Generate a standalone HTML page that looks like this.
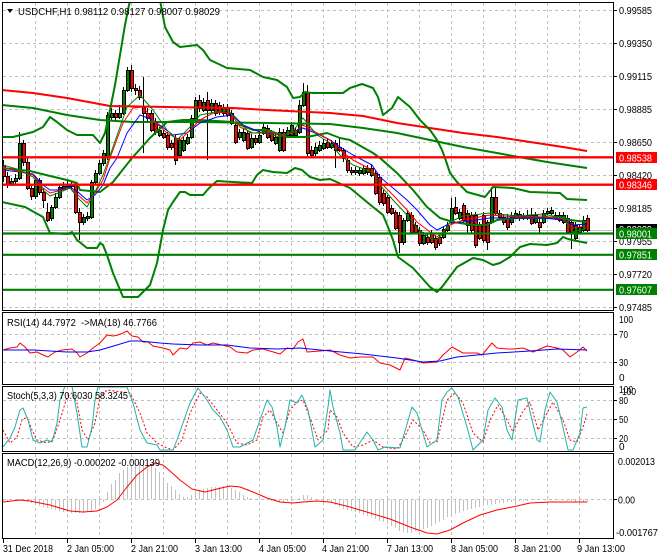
<!DOCTYPE html>
<html><head><meta charset="utf-8">
<style>
html,body{margin:0;padding:0;background:#fff;}
svg{display:block;}
text{font-family:"Liberation Sans",Arial,sans-serif;font-size:10px;fill:#000;white-space:pre;}
.w{fill:#fff;}
.g{fill:none;stroke:#c0c0c0;stroke-width:1;stroke-dasharray:3,3;shape-rendering:crispEdges;}
.b{fill:none;stroke:#000;stroke-width:1;shape-rendering:crispEdges;}
.t2{fill:none;stroke-width:2;stroke-linejoin:round;}
.t1{fill:none;stroke-width:1;stroke-linejoin:round;}
</style></head><body>
<svg width="660" height="560" viewBox="0 0 660 560" xmlns="http://www.w3.org/2000/svg" xml:space="preserve">
<rect width="660" height="560" fill="#fff"/>
<defs>
<clipPath id="cm"><rect x="3" y="3" width="610" height="307"/></clipPath>
<clipPath id="cr"><rect x="3" y="313" width="610" height="71"/></clipPath>
<clipPath id="cs"><rect x="3" y="387" width="610" height="64"/></clipPath>
<clipPath id="cd"><rect x="3" y="454" width="610" height="84"/></clipPath>
</defs>

<!-- grids -->
<path class="g" d="M3 10.5H613M3 43.5H613M3 76.5H613M3 109.5H613M3 142.5H613M3 175.5H613M3 208.5H613M3 241.5H613M3 274.5H613M3 307.5H613"/>
<path class="g" d="M35.5 3V310M67.5 3V310M99.5 3V310M131.5 3V310M163.5 3V310M195.5 3V310M227.5 3V310M259.5 3V310M291.5 3V310M323.5 3V310M355.5 3V310M387.5 3V310M419.5 3V310M451.5 3V310M483.5 3V310M515.5 3V310M547.5 3V310M579.5 3V310"/>
<path class="g" d="M3 334.5H613M3 362.5H613"/>
<path class="g" d="M35.5 313V384M67.5 313V384M99.5 313V384M131.5 313V384M163.5 313V384M195.5 313V384M227.5 313V384M259.5 313V384M291.5 313V384M323.5 313V384M355.5 313V384M387.5 313V384M419.5 313V384M451.5 313V384M483.5 313V384M515.5 313V384M547.5 313V384M579.5 313V384"/>
<path class="g" d="M3 400.5H613M3 419.5H613M3 438.5H613"/>
<path class="g" d="M35.5 387V451M67.5 387V451M99.5 387V451M131.5 387V451M163.5 387V451M195.5 387V451M227.5 387V451M259.5 387V451M291.5 387V451M323.5 387V451M355.5 387V451M387.5 387V451M419.5 387V451M451.5 387V451M483.5 387V451M515.5 387V451M547.5 387V451M579.5 387V451"/>
<path class="g" d="M3 499.5H613"/>
<path class="g" d="M35.5 454V538M67.5 454V538M99.5 454V538M131.5 454V538M163.5 454V538M195.5 454V538M227.5 454V538M259.5 454V538M291.5 454V538M323.5 454V538M355.5 454V538M387.5 454V538M419.5 454V538M451.5 454V538M483.5 454V538M515.5 454V538M547.5 454V538M579.5 454V538"/>

<!-- MAIN CHART -->
<g clip-path="url(#cm)">
<path d="M3 230.5H613" stroke="#c0c0c0" stroke-width="1" shape-rendering="crispEdges"/>
<!-- wicks -->
<path class="b" d="M3.5 160V182M7.5 172V188M11.5 178V186M15.5 174V184M19.5 132V180M23.5 140V166M27.5 158V190M31.5 185V200M35.5 176V199M39.5 178V195M43.5 188V208M47.5 203V222M51.5 205V221M55.5 193V209M59.5 185V199M63.5 182V191M67.5 180V189M71.5 181V190M75.5 182V214M79.5 208V240M83.5 214V225M87.5 212V221M91.5 180V219M95.5 170V184M99.5 160V175M103.5 150V166M107.5 112V160M111.5 108V120M115.5 110V120M119.5 105V119M123.5 87V115M127.5 67V92M131.5 65V92M135.5 84V95M139.5 86V100M143.5 77V153M147.5 108V121M151.5 110V132M155.5 118V135M159.5 127V137M163.5 130V139M167.5 132V150M171.5 140V150M175.5 135V165M179.5 137V158M183.5 137V152M187.5 134V145M191.5 115V139M195.5 97V120M199.5 95V112M203.5 98V112M207.5 92V160M211.5 99V113M215.5 100V116M219.5 102V115M223.5 104V116M227.5 104V117M231.5 110V125M235.5 122V144M239.5 129V140M243.5 128V142M247.5 130V150M251.5 134V149M255.5 135V145M259.5 131V144M263.5 123V135M267.5 125V139M271.5 130V142M275.5 134V145M279.5 128V152M283.5 129V152M287.5 127V137M291.5 122V137M295.5 127V138M299.5 100V134M303.5 83V107M307.5 85V156M311.5 146V158M315.5 143V156M319.5 141V152M323.5 139V150M327.5 139V149M331.5 140V149M335.5 140V168M339.5 137V152M343.5 148V162M347.5 158V173M351.5 167V175M355.5 167V175M359.5 167V176M363.5 166V175M367.5 165V175M371.5 165V177M375.5 170V195M379.5 174V205M383.5 190V206M387.5 195V214M391.5 205V215M395.5 210V230M399.5 212V253M403.5 218V245M407.5 210V222M411.5 212V234M415.5 222V234M419.5 227V246M423.5 232V245M427.5 234V245M431.5 230V244M435.5 235V250M439.5 235V246M443.5 226V239M447.5 222V232M451.5 198V224M455.5 197V215M459.5 209V220M463.5 203V222M467.5 210V233M471.5 212V233M475.5 212V248M479.5 222V240M483.5 212V243M487.5 220V250M491.5 187V224M495.5 187V215M499.5 210V219M503.5 214V225M507.5 214V230M511.5 212V225M515.5 210V219M519.5 211V221M523.5 213V220M527.5 210V220M531.5 208V225M535.5 212V224M539.5 219V233M543.5 210V224M547.5 208V215M551.5 207V215M555.5 212V220M559.5 212V222M563.5 212V224M567.5 215V234M571.5 219V249M575.5 222V240M579.5 224V234M583.5 216V232M587.5 215V232"/>
<!-- bull bodies -->
<path fill="#008000" stroke="#000" stroke-width="1" shape-rendering="crispEdges" d="M10.5 181.5h3v3h-3zM14.5 178.5h3v3h-3zM18.5 143.5h3v35h-3zM34.5 180.5h3v16h-3zM50.5 207.5h3v11h-3zM54.5 197.5h3v10h-3zM58.5 187.5h3v10h-3zM62.5 186.5h3v2h-3zM66.5 184.5h3v2h-3zM82.5 217.5h3v5h-3zM86.5 216.5h3v2h-3zM90.5 182.5h3v35h-3zM94.5 173.5h3v9h-3zM98.5 163.5h3v10h-3zM102.5 153.5h3v10h-3zM106.5 115.5h3v42h-3zM110.5 113.5h3v4h-3zM118.5 113.5h3v4h-3zM122.5 90.5h3v23h-3zM126.5 70.5h3v20h-3zM158.5 130.5h3v5h-3zM178.5 140.5h3v15h-3zM182.5 140.5h3v10h-3zM186.5 137.5h3v6h-3zM190.5 118.5h3v19h-3zM194.5 100.5h3v18h-3zM202.5 102.5h3v8h-3zM210.5 103.5h3v7h-3zM222.5 107.5h3v6h-3zM238.5 132.5h3v5h-3zM242.5 132.5h3v8h-3zM250.5 138.5h3v9h-3zM258.5 135.5h3v7h-3zM262.5 127.5h3v6h-3zM274.5 137.5h3v6h-3zM278.5 132.5h3v18h-3zM286.5 130.5h3v5h-3zM290.5 125.5h3v10h-3zM294.5 130.5h3v5h-3zM298.5 105.5h3v27h-3zM302.5 92.5h3v13h-3zM314.5 147.5h3v6h-3zM318.5 145.5h3v5h-3zM322.5 143.5h3v5h-3zM330.5 143.5h3v4h-3zM354.5 170.5h3v2h-3zM358.5 170.5h3v3h-3zM362.5 168.5h3v5h-3zM402.5 220.5h3v22h-3zM406.5 213.5h3v7h-3zM422.5 235.5h3v8h-3zM442.5 229.5h3v8h-3zM446.5 225.5h3v5h-3zM450.5 208.5h3v14h-3zM458.5 212.5h3v6h-3zM490.5 197.5h3v25h-3zM510.5 215.5h3v7h-3zM514.5 213.5h3v4h-3zM534.5 215.5h3v7h-3zM542.5 213.5h3v9h-3zM546.5 211.5h3v2h-3zM550.5 210.5h3v3h-3zM562.5 215.5h3v7h-3zM574.5 225.5h3v13h-3zM578.5 227.5h3v5h-3zM582.5 220.5h3v10h-3z"/>
<!-- bear bodies -->
<path fill="#ff0000" stroke="#000" stroke-width="1" shape-rendering="crispEdges" d="M2.5 165.5h3v11h-3zM6.5 176.5h3v8h-3zM22.5 143.5h3v19h-3zM26.5 162.5h3v26h-3zM30.5 188.5h3v8h-3zM38.5 180.5h3v12h-3zM42.5 192.5h3v8h-3zM46.5 212.5h3v8h-3zM70.5 184.5h3v2h-3zM74.5 184.5h3v28h-3zM78.5 212.5h3v10h-3zM114.5 113.5h3v4h-3zM130.5 70.5h3v18h-3zM134.5 88.5h3v2h-3zM138.5 90.5h3v7h-3zM142.5 107.5h3v6h-3zM146.5 113.5h3v5h-3zM150.5 113.5h3v17h-3zM154.5 122.5h3v10h-3zM162.5 133.5h3v4h-3zM166.5 135.5h3v12h-3zM170.5 143.5h3v4h-3zM174.5 138.5h3v22h-3zM198.5 100.5h3v8h-3zM206.5 100.5h3v10h-3zM214.5 103.5h3v10h-3zM218.5 105.5h3v7h-3zM226.5 107.5h3v8h-3zM230.5 113.5h3v10h-3zM234.5 125.5h3v17h-3zM246.5 133.5h3v15h-3zM254.5 138.5h3v4h-3zM266.5 128.5h3v9h-3zM270.5 133.5h3v7h-3zM282.5 132.5h3v18h-3zM306.5 92.5h3v61h-3zM310.5 150.5h3v5h-3zM326.5 142.5h3v5h-3zM334.5 143.5h3v7h-3zM338.5 147.5h3v3h-3zM342.5 150.5h3v8h-3zM346.5 160.5h3v10h-3zM350.5 170.5h3v2h-3zM366.5 168.5h3v4h-3zM370.5 168.5h3v7h-3zM374.5 173.5h3v20h-3zM378.5 177.5h3v25h-3zM382.5 193.5h3v10h-3zM386.5 197.5h3v15h-3zM390.5 208.5h3v5h-3zM394.5 212.5h3v16h-3zM398.5 215.5h3v27h-3zM410.5 215.5h3v17h-3zM414.5 225.5h3v7h-3zM418.5 230.5h3v13h-3zM426.5 237.5h3v5h-3zM430.5 233.5h3v9h-3zM434.5 238.5h3v9h-3zM438.5 237.5h3v6h-3zM454.5 207.5h3v6h-3zM462.5 205.5h3v15h-3zM466.5 213.5h3v12h-3zM470.5 215.5h3v15h-3zM474.5 215.5h3v30h-3zM478.5 225.5h3v13h-3zM482.5 215.5h3v25h-3zM486.5 222.5h3v20h-3zM494.5 197.5h3v16h-3zM498.5 213.5h3v4h-3zM502.5 217.5h3v5h-3zM506.5 218.5h3v9h-3zM518.5 214.5h3v4h-3zM522.5 216.5h3v2h-3zM526.5 215.5h3v3h-3zM530.5 215.5h3v8h-3zM538.5 222.5h3v5h-3zM554.5 215.5h3v3h-3zM558.5 215.5h3v5h-3zM566.5 218.5h3v14h-3zM570.5 222.5h3v10h-3zM586.5 218.5h3v12h-3z"/>

<!-- long MAs -->
<polyline class="t2" stroke="#ff0000" points="2,90 33,93 67,98 110,106 167,107 233,108 267,110 330,113 363,116 397,123 430,128 463,133 497,137 530,142 563,147 587,151"/>
<polyline class="t2" stroke="#008000" points="2,105 33,108 67,115 100,120 133,122 200,122 267,123 330,124 363,128 397,133 430,140 463,147 497,153 513,156 547,162 587,168"/>
<!-- Bollinger -->
<polyline class="t2" stroke="#008000" points="2,137 13,137 33,132 43,127 50,117 57,122 67,130 77,135 93,135 100,143 105,133 110,110 115,85 120,55 125,25 129,5 132,-5 155,-5 160,0 165,27 173,42 180,47 197,45 203,50 210,60 227,68 250,70 263,77 277,80 287,87 293,98 300,97 305,92 312,93 343,93 350,88 362,84 373,88 378,97 383,115 392,108 398,97 410,107 420,120 430,130 437,140 442,150 445,158 450,173 457,182 467,192 485,197 493,187 513,188 530,192 560,193 567,199 587,200"/>
<polyline class="t2" stroke="#008000" points="2,168 30,171 50,176 67,180 77,183 80,190 100,192 113,182 132,158 150,138 167,122 183,120 200,120 233,122 253,130 267,130 287,137 307,137 327,133 340,138 350,140 373,153 380,158 397,173 413,190 427,207 440,218 453,222 473,225 487,225 497,220 517,218 543,218 560,217 570,220 587,222"/>
<polyline class="t2" stroke="#008000" points="2,202 25,207 43,217 50,233 68,234 72,232 77,240 87,248 97,248 100,243 103,245 107,255 113,273 123,297 138,297 150,285 157,263 163,230 168,210 173,202 180,192 185,192 190,195 203,195 210,187 217,181 233,182 252,183 257,175 263,170 273,172 287,173 295,168 302,170 310,177 320,180 330,179 350,188 373,207 383,215 388,227 393,240 398,257 413,268 430,287 437,292 442,287 457,267 473,258 483,260 493,265 500,263 510,257 520,247 530,244 547,245 557,243 563,237 568,239 577,241 587,243"/>
<!-- thin EMAs -->
<polyline class="t1" stroke="#0000ff" points="3,170 20,172 33,174 43,185 50,190 58,190 70,187 78,192 87,200 95,195 103,185 110,168 117,158 127,133 140,115 153,120 173,135 187,133 200,123 217,117 233,115 243,125 260,132 283,135 303,128 320,135 330,140 340,147 353,155 372,165 380,177 393,188 407,200 417,210 430,225 437,230 443,227 450,223 463,222 490,218 517,218 543,218 563,220 573,225 587,224"/>
<polyline class="t1" stroke="#ff0000" points="3,167 20,172 33,175 43,188 50,193 58,191 70,188 78,195 87,203 95,193 103,180 110,158 123,123 133,108 143,107 153,120 167,133 180,140 190,130 200,120 213,113 230,112 240,127 253,133 267,132 280,135 293,133 303,125 317,133 330,140 340,150 353,160 372,170 380,182 393,195 407,210 417,222 430,232 437,237 443,232 450,225 463,220 490,215 517,217 543,216 563,219 573,228 587,226"/>
<polyline class="t1" stroke="#008000" points="3,165 20,170 33,177 43,190 50,196 58,193 70,188 78,198 87,207 95,192 103,175 113,147 127,107 140,95 153,110 167,130 177,140 190,127 200,115 227,110 237,120 250,133 265,133 280,137 293,131 303,118 317,135 330,143 340,155 353,165 372,172 380,185 393,200 407,215 417,228 430,238 437,240 443,233 450,222 463,216 490,213 517,216 543,214 563,218 573,232 587,228"/>
<!-- horizontal objects -->
<path d="M3 157.3H613M3 184.7H613" stroke="#ff0000" stroke-width="2.4"/>
<path d="M3 233.5H613M3 254.8H613M3 289.8H613" stroke="#008000" stroke-width="2.2"/>
</g>

<!-- RSI -->
<g clip-path="url(#cr)">
<polyline class="t1" stroke="#ff0000" points="3,350 10,348 17,347 20,343 25,347 30,353 37,352 43,355 48,357 55,352 62,350 72,349 77,353 80,357 87,353 93,348 100,343 107,335 113,336 118,335 123,333 127,331 132,336 138,337 143,342 148,342 153,346 163,348 170,350 173,355 180,348 187,349 193,343 200,342 207,345 213,343 222,345 230,347 237,352 247,353 253,350 263,349 270,351 280,354 287,348 293,349 298,342 303,339 307,352 320,351 330,350 340,355 350,358 360,357 373,357 380,363 390,365 400,370 405,358 417,361 423,363 437,362 443,355 452,347 463,353 477,353 482,355 492,343 497,348 507,349 513,349 523,348 533,352 547,346 557,348 563,350 570,357 577,352 583,347 587,351"/>
<polyline class="t1" stroke="#0000ff" stroke-width="1.6" points="3,350 33,350 67,352 87,352 100,350 117,345 130,341 140,341 160,343 173,344 200,345 227,345 250,348 277,349 300,348 310,349 330,351 363,354 397,358 423,362 440,361 457,357 477,355 497,353 530,351 557,349 587,350"/>
</g>

<!-- Stochastic -->
<g clip-path="url(#cs)">
<polyline class="t1" stroke="#ff0000" stroke-dasharray="2,2" points="3,430 10,443 17,437 22,420 27,417 32,430 37,440 47,443 53,440 60,420 67,397 72,393 77,403 82,430 88,440 95,423 100,397 107,390 130,393 140,413 147,433 157,443 167,448 173,450 182,440 190,413 200,393 207,397 217,410 227,423 237,443 247,445 257,440 263,417 270,410 277,423 283,433 290,410 297,402 303,400 312,423 318,440 328,430 330,410 337,417 343,433 353,447 363,445 373,440 383,447 397,449 403,440 413,420 423,430 430,443 437,442 447,400 455,393 463,403 473,433 483,442 490,420 498,405 507,420 513,432 522,413 530,402 538,430 547,413 553,402 563,420 570,440 577,442 583,427 587,414"/>
<polyline class="t1" stroke="#20b2aa" stroke-width="1.3" points="3,447 10,438 15,427 20,410 23,408 28,420 33,440 40,443 47,440 52,442 57,423 60,400 65,386 72,386 77,413 82,447 87,447 92,427 95,400 98,387 127,387 133,403 140,430 147,443 157,445 160,450 173,450 177,440 183,423 190,403 198,388 207,400 213,410 220,417 227,430 233,447 240,447 253,440 260,420 267,400 272,407 277,427 280,447 285,427 290,400 297,403 302,395 308,410 315,447 323,440 328,407 330,390 333,407 340,433 343,450 355,450 367,432 373,440 378,450 385,447 400,448 412,407 417,413 427,447 437,440 442,400 447,392 452,388 458,397 467,427 473,450 483,440 488,410 495,398 502,407 507,430 512,440 518,400 527,398 532,420 537,440 540,442 545,410 550,392 557,402 562,423 568,450 573,450 580,433 583,408 587,407"/>
</g>

<!-- MACD -->
<g clip-path="url(#cd)">
<path stroke="#c0c0c0" stroke-width="1" fill="none" d="M3.5 499.5V501M7.5 499.5V501M11.5 499.5V500M15.5 499.5V500M19.5 499.5V501M23.5 499.5V501M27.5 499.5V502M31.5 499.5V503M35.5 499.5V504M39.5 499.5V506M43.5 499.5V507M47.5 499.5V508M51.5 499.5V509M55.5 499.5V510M59.5 499.5V511M63.5 499.5V512M67.5 499.5V512M71.5 499.5V513M75.5 499.5V513M79.5 499.5V513M83.5 499.5V513M87.5 499.5V512M91.5 499.5V511M95.5 499.5V509M99.5 499.5V506M103.5 499.5V502M107.5 499.5V492M111.5 499.5V484M115.5 499.5V480M119.5 499.5V473M123.5 499.5V470M127.5 499.5V467M131.5 499.5V465M135.5 499.5V463M139.5 499.5V462M143.5 499.5V462M147.5 499.5V463M151.5 499.5V464M155.5 499.5V468M159.5 499.5V472M163.5 499.5V477M167.5 499.5V483M171.5 499.5V486M175.5 499.5V490M179.5 499.5V494M183.5 499.5V497M187.5 499.5V497M191.5 499.5V495M195.5 499.5V492M199.5 499.5V490M203.5 499.5V489M207.5 499.5V488M211.5 499.5V487M215.5 499.5V487M219.5 499.5V487M223.5 499.5V486M227.5 499.5V487M231.5 499.5V488M235.5 499.5V490M239.5 499.5V492M243.5 499.5V495M247.5 499.5V497M251.5 499.5V498M255.5 499.5V499M259.5 499.5V500M263.5 499.5V500M267.5 499.5V500M271.5 499.5V501M275.5 499.5V501M279.5 499.5V502M283.5 499.5V502M287.5 499.5V501M291.5 499.5V501M295.5 499.5V500M299.5 499.5V498M303.5 499.5V495M307.5 499.5V495M311.5 499.5V497M315.5 499.5V499M319.5 499.5V500M323.5 499.5V501M327.5 499.5V501M331.5 499.5V502M335.5 499.5V505M339.5 499.5V507M343.5 499.5V509M347.5 499.5V510M351.5 499.5V511M355.5 499.5V512M359.5 499.5V513M363.5 499.5V515M367.5 499.5V516M371.5 499.5V517M375.5 499.5V519M379.5 499.5V521M383.5 499.5V522M387.5 499.5V524M391.5 499.5V526M395.5 499.5V528M399.5 499.5V531M403.5 499.5V532M407.5 499.5V533M411.5 499.5V533M415.5 499.5V531M419.5 499.5V530M423.5 499.5V529M427.5 499.5V528M431.5 499.5V526M435.5 499.5V524M439.5 499.5V522M443.5 499.5V520M447.5 499.5V517M451.5 499.5V516M455.5 499.5V514M459.5 499.5V513M463.5 499.5V511M467.5 499.5V510M471.5 499.5V509M475.5 499.5V508M479.5 499.5V507M483.5 499.5V506M487.5 499.5V505M491.5 499.5V505M495.5 499.5V504M499.5 499.5V503M503.5 499.5V503M507.5 499.5V502M511.5 499.5V502M515.5 499.5V502M519.5 499.5V501M523.5 499.5V501M527.5 499.5V501M531.5 499.5V500M535.5 499.5V500M539.5 499.5V500M543.5 499.5V499M547.5 499.5V499M551.5 499.5V499M555.5 499.5V499M559.5 499.5V500M563.5 499.5V500M567.5 499.5V501M571.5 499.5V501M575.5 499.5V502M579.5 499.5V502M583.5 499.5V502M587.5 499.5V502"/>
<polyline class="t1" stroke="#ff0000" stroke-width="1.3" points="3,502 20,500 30,501 40,503 50,505 60,508 70,511 83,512 97,511 107,507 117,500 127,487 137,475 147,467 155,463 163,465 170,471 180,480 192,489 205,492 217,489 230,486 240,487 253,492 267,498 280,502 293,503 303,502 317,501 330,502 350,507 370,513 390,519 410,527 427,533 437,534 450,530 463,523 480,515 497,510 517,506 530,503 550,502 570,502 587,502"/>
</g>

<!-- panel borders -->
<rect class="b" x="2.5" y="2.5" width="611" height="308"/>
<rect class="b" x="2.5" y="312.5" width="611" height="72"/>
<rect class="b" x="2.5" y="386.5" width="611" height="65"/>
<rect class="b" x="2.5" y="453.5" width="611" height="85"/>

<!-- axis ticks -->
<path class="b" d="M613 10.5h4M613 43.5h4M613 76.5h4M613 109.5h4M613 142.5h4M613 175.5h4M613 208.5h4M613 241.5h4M613 274.5h4M613 307.5h4M613 334.5h4M613 362.5h4M613 400.5h4M613 419.5h4M613 438.5h4M613 499.5h4M3.5 538V543M67.5 538V543M131.5 538V543M195.5 538V543M259.5 538V543M323.5 538V543M387.5 538V543M451.5 538V543M515.5 538V543M579.5 538V543"/>

<!-- header -->
<polygon points="7,9 13,9 10,13" fill="#000"/>
<text x="18" y="15" textLength="202" lengthAdjust="spacingAndGlyphs">USDCHF,H1 0.98112 0.98127 0.98007 0.98029</text>
<text x="7" y="326" textLength="150" lengthAdjust="spacingAndGlyphs">RSI(14) 44.7972  -&gt;MA(18) 46.7766</text>
<text x="7" y="399" textLength="121" lengthAdjust="spacingAndGlyphs">Stoch(5,3,3) 70.6030 58.3245</text>
<text x="7" y="466" textLength="153" lengthAdjust="spacingAndGlyphs">MACD(12,26,9) -0.000202 -0.000139</text>

<!-- right axis main -->
<g>
<text x="619" y="14" textLength="33" lengthAdjust="spacingAndGlyphs">0.99585</text>
<text x="619" y="47" textLength="33" lengthAdjust="spacingAndGlyphs">0.99350</text>
<text x="619" y="80" textLength="33" lengthAdjust="spacingAndGlyphs">0.99115</text>
<text x="619" y="113" textLength="33" lengthAdjust="spacingAndGlyphs">0.98885</text>
<text x="619" y="146" textLength="33" lengthAdjust="spacingAndGlyphs">0.98650</text>
<text x="619" y="179" textLength="33" lengthAdjust="spacingAndGlyphs">0.98420</text>
<text x="619" y="212" textLength="33" lengthAdjust="spacingAndGlyphs">0.98185</text>
<text x="619" y="245" textLength="33" lengthAdjust="spacingAndGlyphs">0.97955</text>
<text x="619" y="278" textLength="33" lengthAdjust="spacingAndGlyphs">0.97720</text>
<text x="619" y="311" textLength="33" lengthAdjust="spacingAndGlyphs">0.97485</text>
</g>
<rect x="616" y="152" width="41" height="11" fill="#ff0000"/>
<text class="w" x="619" y="161.5" textLength="33" lengthAdjust="spacingAndGlyphs">0.98538</text>
<rect x="616" y="179" width="41" height="11" fill="#ff0000"/>
<text class="w" x="619" y="188.5" textLength="33" lengthAdjust="spacingAndGlyphs">0.98346</text>
<rect x="616" y="224" width="41" height="11" fill="#000"/>
<text class="w" x="619" y="233" textLength="33" lengthAdjust="spacingAndGlyphs">0.98029</text>
<rect x="616" y="228" width="41" height="11" fill="#008000"/>
<text class="w" x="619" y="237.5" textLength="33" lengthAdjust="spacingAndGlyphs">0.98001</text>
<rect x="616" y="249" width="41" height="11" fill="#008000"/>
<text class="w" x="619" y="258.5" textLength="33" lengthAdjust="spacingAndGlyphs">0.97851</text>
<rect x="616" y="284" width="41" height="11" fill="#008000"/>
<text class="w" x="619" y="293.5" textLength="33" lengthAdjust="spacingAndGlyphs">0.97607</text>

<!-- right axis sub panels -->
<text x="619" y="323" textLength="14" lengthAdjust="spacingAndGlyphs">100</text>
<text x="619" y="338" textLength="9" lengthAdjust="spacingAndGlyphs">70</text>
<text x="619" y="366" textLength="9" lengthAdjust="spacingAndGlyphs">30</text>
<text x="619" y="381">0</text>
<text x="619" y="393" textLength="14" lengthAdjust="spacingAndGlyphs">100</text>
<text x="622" y="395" textLength="14" lengthAdjust="spacingAndGlyphs">100</text>
<text x="619" y="404" textLength="9" lengthAdjust="spacingAndGlyphs">80</text>
<text x="619" y="423" textLength="9" lengthAdjust="spacingAndGlyphs">50</text>
<text x="619" y="442" textLength="9" lengthAdjust="spacingAndGlyphs">20</text>
<text x="619" y="450">0</text>
<text x="618" y="465" textLength="37" lengthAdjust="spacingAndGlyphs">0.002013</text>
<text x="618" y="503.5" textLength="17" lengthAdjust="spacingAndGlyphs">0.00</text>
<text x="616" y="536" textLength="42" lengthAdjust="spacingAndGlyphs">-0.001767</text>

<!-- x axis -->
<text x="3" y="552" textLength="50" lengthAdjust="spacingAndGlyphs">31 Dec 2018</text>
<text x="67" y="552" textLength="47" lengthAdjust="spacingAndGlyphs">2 Jan 05:00</text>
<text x="131" y="552" textLength="47" lengthAdjust="spacingAndGlyphs">2 Jan 21:00</text>
<text x="195" y="552" textLength="47" lengthAdjust="spacingAndGlyphs">3 Jan 13:00</text>
<text x="259" y="552" textLength="47" lengthAdjust="spacingAndGlyphs">4 Jan 05:00</text>
<text x="322" y="552" textLength="47" lengthAdjust="spacingAndGlyphs">4 Jan 21:00</text>
<text x="387" y="552" textLength="46" lengthAdjust="spacingAndGlyphs">7 Jan 13:00</text>
<text x="451" y="552" textLength="47" lengthAdjust="spacingAndGlyphs">8 Jan 05:00</text>
<text x="514" y="552" textLength="47" lengthAdjust="spacingAndGlyphs">8 Jan 21:00</text>
<text x="577" y="552" textLength="48" lengthAdjust="spacingAndGlyphs">9 Jan 13:00</text>
</svg>
</body></html>
